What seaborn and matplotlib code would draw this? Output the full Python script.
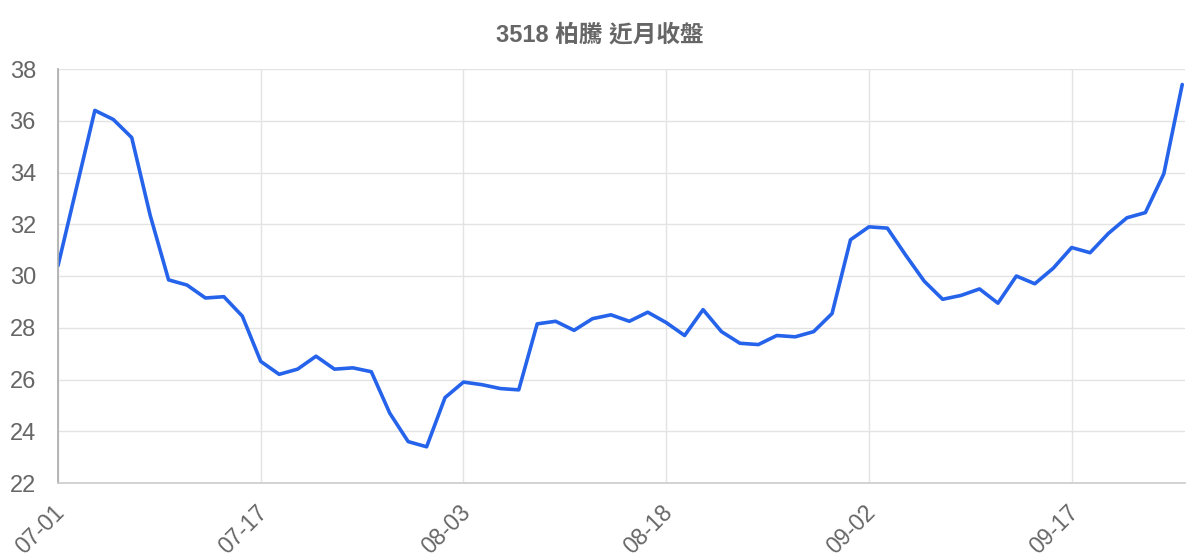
import matplotlib
matplotlib.use("Agg")
import matplotlib.pyplot as plt
import matplotlib.transforms as mtransforms
import seaborn as sns
import pandas as pd

# trading days (MM-DD) and closing prices
dates = ["07-01", "07-02", "07-06", "07-07", "07-08", "07-09", "07-10", "07-13", "07-14", "07-15",
         "07-16", "07-17", "07-20", "07-21", "07-22", "07-23", "07-24", "07-27", "07-28", "07-29",
         "07-30", "07-31", "08-03", "08-04", "08-05", "08-06", "08-07", "08-10", "08-11", "08-12",
         "08-13", "08-14", "08-17", "08-18", "08-19", "08-20", "08-21", "08-24", "08-25", "08-26",
         "08-27", "08-28", "08-31", "09-01", "09-02", "09-03", "09-04", "09-07", "09-08", "09-09",
         "09-10", "09-11", "09-14", "09-15", "09-16", "09-17", "09-18", "09-21", "09-22", "09-23",
         "09-24", "09-25"]
close = [30.4, 33.4, 36.4, 36.05, 35.35, 32.35, 29.85, 29.65, 29.15, 29.2,
         28.45, 26.7, 26.2, 26.4, 26.9, 26.4, 26.45, 26.3, 24.7, 23.6,
         23.4, 25.3, 25.9, 25.8, 25.65, 25.6, 28.15, 28.25, 27.9, 28.35,
         28.5, 28.25, 28.6, 28.2, 27.7, 28.7, 27.85, 27.4, 27.35, 27.7,
         27.65, 27.85, 28.55, 31.4, 31.9, 31.85, 30.8, 29.8, 29.1, 29.25,
         29.5, 28.95, 30.0, 29.7, 30.3, 31.1, 30.9, 31.65, 32.25, 32.45,
         33.95, 37.4]
title = "3518 柏騰 近月收盤"
label_step = 11

df = pd.DataFrame({"idx": range(len(dates)), "date": dates, "close": close})

sns.set_style("white")
plt.rcParams["font.family"] = ["Liberation Sans", "Noto Sans CJK TC", "DejaVu Sans"]

fig = plt.figure(figsize=(12, 5.6), dpi=100)
ax = fig.add_axes([58 / 1200, 1 - 483 / 560, (1185 - 58) / 1200, (483 - 69) / 560])

sns.lineplot(data=df, x="idx", y="close", color="#2563eb", linewidth=2.6, ax=ax)

ax.set_xlim(0, len(dates) - 1 + 0.15)
ax.set_ylim(22, 38)
ax.set_yticks(range(22, 39, 2))
ax.set_xticks(df["idx"][::label_step])
ax.set_xticklabels(df["date"][::label_step], rotation=45, ha="right", va="top",
                   rotation_mode="anchor")
ax.set_xlabel("")
ax.set_ylabel("")

ax.grid(True, color="#e3e3e3", linewidth=1.0)
ax.set_axisbelow(True)
ax.tick_params(axis="y", length=14.4, width=0.8, color="#e3e3e3", pad=1.5,
               labelsize=17, labelcolor="#666666")
ax.tick_params(axis="x", length=14.4, width=0.8, color="#dddddd", pad=0,
               labelsize=16.5, labelcolor="#666666")
# nudge the rotated date labels so their ends sit at the tick marks
shift = mtransforms.ScaledTranslation(-5 / 100, 2 / 100, fig.dpi_scale_trans)
for lbl in ax.get_xticklabels():
    lbl.set_transform(lbl.get_transform() + shift)

for side in ["top", "right"]:
    ax.spines[side].set_visible(False)
ax.spines["left"].set_color("#aaaaaa")
ax.spines["left"].set_linewidth(1.2)
ax.spines["bottom"].set_color("#cccccc")
ax.spines["bottom"].set_linewidth(1.2)

fig.text(0.5, 1 - 35 / 560, title, ha="center", va="center", fontsize=17,
         fontweight="bold", color="#666666")

fig.savefig("out.png", dpi=100, facecolor="white")
